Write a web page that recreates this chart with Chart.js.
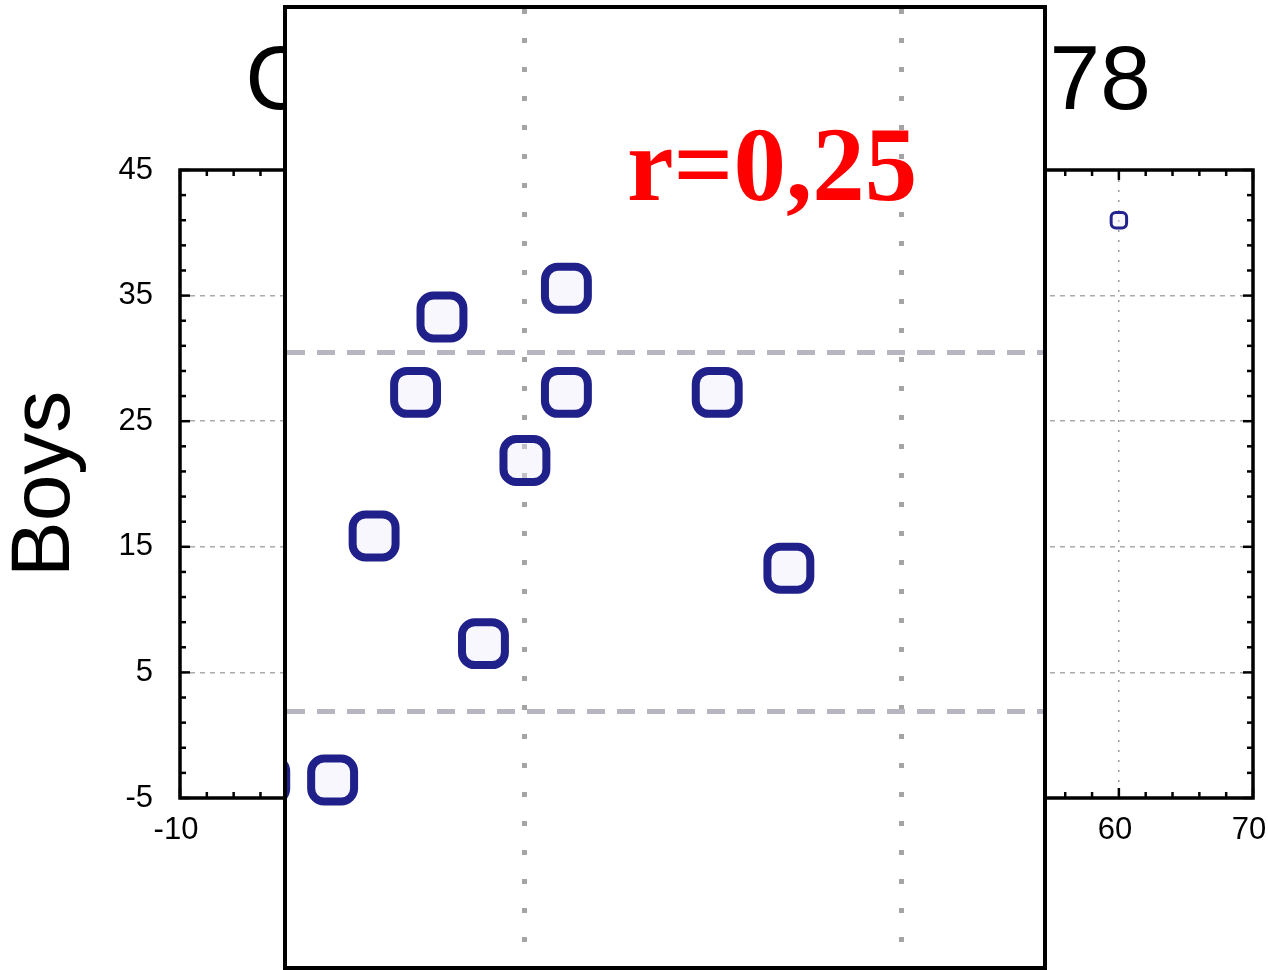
<!DOCTYPE html>
<html>
<head>
<meta charset="utf-8">
<script src="https://cdn.jsdelivr.net/npm/chart.js@4/dist/chart.umd.min.js"></script>
<style>
  body { margin: 0; background: #fff; }
  #wrap { position: relative; width: 1268px; height: 970px; }
  #inset {
    position: absolute; left: 283px; top: 5px;
    width: 756px; height: 957px;
    border: 4px solid #000; background: #fff;
  }
</style>
</head>
<body>
<div id="wrap">
  <canvas id="main" width="1268" height="970"></canvas>
  <div id="inset"><canvas id="zoom" width="756" height="957"></canvas></div>
</div>
<script>
// background chart
const titleText = 'Correlation 1976-1978';
const yTitle = 'Boys';
const xTicks = [-10, 0, 10, 20, 30, 40, 50, 60, 70];
const yTicks = [-5, 5, 15, 25, 35, 45];
const girls = [60];
const boys = [41];

// magnified inset
const insetGridX = [0, 10];
const insetGridY = [15, 25];
const insetX = [1.1, -2.2, -2.9, 1.1, 5.1, 0.0, -4.0, 7.0, -1.1, -5.1, -6.9];
const insetY = [26.8, 26.0, 23.9, 23.9, 23.9, 22.0, 19.9, 19.0, 16.9, 13.1, 13.1];
const rLabel = 'r=0,25';

const toPoints = (xs, ys) => xs.map((x, i) => ({ x: x, y: ys[i] }));

// box round the plot plus small inward ticks every 2 units
const frameTicks = {
  id: 'frameTicks',
  afterDraw(chart) {
    const { ctx, chartArea: a, scales: { x, y } } = chart;
    ctx.save();
    ctx.strokeStyle = '#000';
    ctx.lineWidth = 2.5;
    const seg = (x1, y1, x2, y2) => { ctx.beginPath(); ctx.moveTo(x1, y1); ctx.lineTo(x2, y2); ctx.stroke(); };
    for (let v = x.min; v <= x.max; v += 2) {
      const p = x.getPixelForValue(v);
      const len = xTicks.includes(v) ? 10 : 6;
      seg(p, a.bottom, p, a.bottom - len);
      seg(p, a.top, p, a.top + len);
    }
    for (let v = y.min; v <= y.max; v += 2) {
      const p = y.getPixelForValue(v);
      const len = yTicks.includes(v) ? 10 : 6;
      seg(a.left, p, a.left + len, p);
      seg(a.right, p, a.right - len, p);
    }
    ctx.lineWidth = 3.5;
    ctx.strokeRect(a.left, a.top, a.right - a.left, a.bottom - a.top);
    ctx.restore();
  }
};

const bigTitle = {
  id: 'bigTitle',
  afterDraw(chart) {
    const ctx = chart.ctx;
    ctx.save();
    ctx.fillStyle = '#000';
    ctx.font = '91px "Liberation Sans", Arial, sans-serif';
    ctx.textAlign = 'center';
    ctx.textBaseline = 'alphabetic';
    ctx.fillText(titleText, 698, 109);
    ctx.restore();
  }
};

new Chart(document.getElementById('main'), {
  type: 'scatter',
  data: {
    datasets: [{
      data: toPoints(girls, boys),
      pointStyle: 'rectRounded',
      pointRadius: 9,
      borderWidth: 3,
      borderColor: '#22228c',
      backgroundColor: 'rgba(240,236,252,0.4)'
    }]
  },
  options: {
    responsive: false,
    animation: false,
    events: [],
    layout: { autoPadding: false, padding: { top: 170, right: 15, left: 0, bottom: 0 } },
    plugins: { legend: { display: false }, tooltip: { enabled: false } },
    scales: {
      x: {
        type: 'linear', min: -10, max: 70,
        afterBuildTicks: s => { s.ticks = xTicks.map(v => ({ value: v })); },
        afterFit: s => { s.height = 172; s.paddingRight = 15; },
        ticks: { color: '#000', padding: 14, labelOffset: -4, font: { size: 31, family: '"Liberation Sans", Arial' } },
        grid: { drawTicks: false, color: '#999', lineWidth: 1.5 },
        border: { display: false, dash: [2, 8] }
      },
      y: {
        type: 'linear', min: -5, max: 45,
        afterBuildTicks: s => { s.ticks = yTicks.map(v => ({ value: v })); },
        afterFit: s => { s.width = 180; },
        ticks: { color: '#000', padding: 27, font: { size: 31, family: '"Liberation Sans", Arial' } },
        grid: { drawTicks: false, color: '#aaa', lineWidth: 1.5 },
        border: { display: false, dash: [5, 5] },
        title: {
          display: true, text: yTitle, color: '#000',
          padding: { top: 0, bottom: 0 },
          font: { size: 84, lineHeight: 1.1, family: '"Liberation Sans", Arial' }
        }
      }
    }
  },
  plugins: [frameTicks, bigTitle]
});

const redLabel = {
  id: 'redLabel',
  afterDraw(chart) {
    const ctx = chart.ctx;
    ctx.save();
    ctx.fillStyle = '#ff0000';
    ctx.font = 'bold 105px "Liberation Serif", "Times New Roman", serif';
    ctx.textAlign = 'left';
    ctx.textBaseline = 'alphabetic';
    ctx.fillText(rLabel, 340, 191);
    ctx.restore();
  }
};

new Chart(document.getElementById('zoom'), {
  type: 'scatter',
  data: {
    datasets: [{
      data: toPoints(insetX, insetY),
      pointStyle: 'rectRounded',
      pointRadius: 25,
      borderWidth: 8,
      borderColor: '#20208a',
      backgroundColor: 'rgba(240,236,252,0.4)',
      clip: false
    }]
  },
  options: {
    responsive: false,
    animation: false,
    events: [],
    layout: { autoPadding: false, padding: 0 },
    plugins: { legend: { display: false }, tooltip: { enabled: false } },
    scales: {
      x: {
        type: 'linear', min: -6.31, max: 13.74,
        afterBuildTicks: s => { s.ticks = insetGridX.map(v => ({ value: v })); },
        afterFit: s => { s.height = 0; s.paddingLeft = 0; s.paddingRight = 0; },
        ticks: { display: false },
        grid: { drawTicks: false, color: '#a4a4a4', lineWidth: 5 },
        border: { display: false, dash: [5, 24] }
      },
      y: {
        type: 'linear', min: 7.92, max: 34.58,
        afterBuildTicks: s => { s.ticks = insetGridY.map(v => ({ value: v })); },
        afterFit: s => { s.width = 0; s.paddingTop = 0; s.paddingBottom = 0; },
        ticks: { display: false },
        grid: { drawTicks: false, color: '#b6b6c0', lineWidth: 5 },
        border: { display: false, dash: [18, 12] }
      }
    }
  },
  plugins: [redLabel]
});
</script>
</body>
</html>
